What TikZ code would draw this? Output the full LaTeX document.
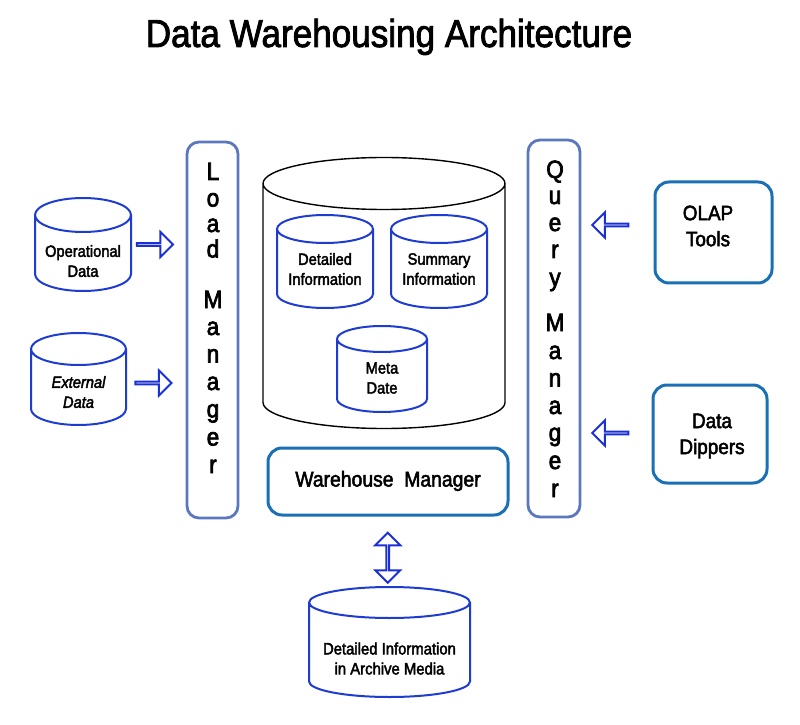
\documentclass[tikz,border=0pt]{standalone}
\usepackage{fontspec}
\setmainfont{Liberation Sans}[FakeStretch=0.9]
\usetikzlibrary{shapes.arrows,calc}
\definecolor{slate}{HTML}{5B78BE}
\definecolor{steel}{HTML}{1B6FB5}
\definecolor{cylblue}{HTML}{1E3CD2}
\definecolor{arrowblue}{HTML}{1A30D6}
\newcommand\myheavy[1]{\special{pdf:literal direct 2 Tr #1 w}}
\newcommand\mycyl[9]{%
  \node[cylbox] (#1) at (#2,#3) [minimum width=#4, minimum height=#5] {};
  \draw[#7] ([yshift=-#6]#1.north west) -- ([yshift=#6]#1.south west)
     arc[start angle=180, end angle=360, x radius=#4/2, y radius=#6]
     -- ([yshift=-#6]#1.north east)
     arc[start angle=0, end angle=360, x radius=#4/2, y radius=#6];
  \node[cyltext] (#1-t) at (#2,#8) {#9};
}
\tikzset{
  cylbox/.style={inner sep=0pt, outer sep=0pt, draw=none},
  cyltext/.style={align=center, inner sep=0pt, font=\fontsize{16.3}{20}\selectfont\myheavy{0.4}},
  bluecyl/.style={draw=cylblue, line width=2pt, fill=white},
  blackcyl/.style={draw=black, line width=1.4pt, fill=white},
  mgrbox/.style={draw=slate, line width=2.8pt, rounded corners=12pt, inner sep=0pt},
  toolbox/.style={draw=steel, line width=3pt, rounded corners=14pt, inner sep=0pt},
  tooltext/.style={align=center, inner sep=0pt, font=\fontsize{21}{26}\selectfont\myheavy{0.5}},
  letter/.style={anchor=base, inner sep=0pt, font=\fontsize{25}{28}\selectfont\myheavy{0.7}},
  harrow/.style={single arrow, draw=arrowblue, fill=white, line width=2pt, minimum height=36pt, minimum width=25pt, single arrow head extend=8.5pt, inner sep=0pt, outer sep=0pt},
  varrow/.style={double arrow, draw=arrowblue, fill=white, line width=2pt, minimum height=50pt, minimum width=25pt, double arrow head extend=8.5pt, inner sep=0pt, outer sep=0pt, rotate=90},
}
\begin{document}
\begin{tikzpicture}[x=1pt,y=1pt]
\useasboundingbox (0,0) rectangle (800,724);
\fill[white] (0,0) rectangle (800,724);
% title
\node[anchor=base, inner sep=0pt, font=\fontsize{39}{44}\selectfont\myheavy{0.8}] (title) at (389,677) {Data Warehousing Architecture};
% source cylinders
\mycyl{op}{83}{479.5}{96}{93}{17}{bluecyl}{463}{Operational\\Data}
\mycyl{ext}{78.5}{345}{95}{92}{16}{bluecyl}{332}{\itshape External\\\itshape Data}
% big warehouse cylinder
\mycyl{big}{384}{431}{242}{271}{26}{blackcyl}{431}{}
\mycyl{det}{325}{462.5}{96}{93}{14}{bluecyl}{455}{Detailed\\Information}
\mycyl{sum}{439}{462.5}{96}{93}{14}{bluecyl}{455}{Summary\\Information}
\mycyl{meta}{382}{355}{90}{86}{13}{bluecyl}{346}{Meta\\Date}
% archive
\mycyl{arch}{389.5}{82}{161}{110}{15.5}{bluecyl}{65.5}{\fontsize{16.5}{21}\selectfont Detailed Information\\\fontsize{16.5}{21}\selectfont in Archive Media}
% managers
\node[mgrbox, minimum width=51pt, minimum height=376pt] (load) at (212.5,394) {};
\node[mgrbox, minimum width=52pt, minimum height=377pt] (query) at (554,395.5) {};
\foreach \ch/\yy [count=\i] in {L/544,o/517.5,a/492,d/466.5,M/416,a/389,n/361.5,a/334,g/306.5,e/278.5,r/251}
  \node[letter] (lm\i) at (213,\yy) {\ch};
\foreach \ch/\yy [count=\i] in {Q/546,u/520,e/493,r/466,y/438,M/393,a/365,n/337.5,a/310,g/283,e/255,r/227}
  \node[letter] (qm\i) at (555,\yy) {\ch};
% warehouse manager
\node[toolbox, minimum width=240pt, minimum height=67pt] (wh) at (388,242.5) {};
\node[tooltext, font=\fontsize{21.5}{26}\selectfont\myheavy{0.5}] (wh-t) at (388,243) {Warehouse~~Manager};
% tools
\node[toolbox, minimum width=117pt, minimum height=101pt] (olap) at (713.5,491.5) {};
\node[tooltext] (olap-t) at (708,498) {OLAP\\Tools};
\node[toolbox, minimum width=114pt, minimum height=98pt] (dip) at (710,290) {};
\node[tooltext] (dip-t) at (712,288) {Data\\Dippers};
% arrows
\node[harrow] (a1) at ([xshift=-4pt]$(op.east)!0.5!(op.east -| load.west)$) {};
\node[harrow] (a2) at ([xshift=-3pt,yshift=-4pt]$(ext.east)!0.5!(ext.east -| load.west)$) {};
\node[harrow, rotate=180] (a3) at ([xshift=-6.5pt,yshift=7.5pt]$(olap.west)!0.5!(olap.west -| query.east)$) {};
\node[harrow, rotate=180] (a4) at ([xshift=-5.5pt,yshift=1pt]$(dip.west)!0.5!(dip.west -| query.east)$) {};
\node[varrow] (a5) at ([xshift=-1pt,yshift=-6pt]$(wh.south)!0.5!(arch.north)$) {};
\end{tikzpicture}
\end{document}
